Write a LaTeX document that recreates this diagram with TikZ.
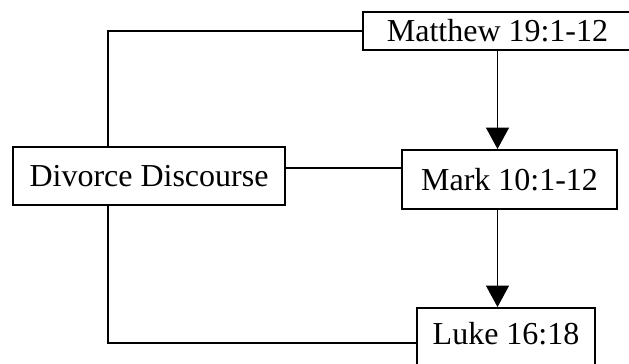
\documentclass[tikz,border=0pt]{standalone}
\usepackage{fontspec}
\setmainfont{Liberation Serif}
\usetikzlibrary{arrows.meta,calc}

\tikzset{
  passage/.style={draw, line width=1.6pt, inner sep=2pt, font=\fontsize{27.3}{32}\selectfont},
  link/.style={line width=1.6pt},
  flow/.style={line width=1.6pt, -{Triangle[width=0.68cm,length=0.64cm]}}
}

\begin{document}
\begin{tikzpicture}[x=0.03cm, y=-0.03cm]

  \clip (0,0) rectangle (629,363);

  % Passages
  \node[passage, minimum width=8.07cm, minimum height=1.14cm] (Matthew) at (497.5,31) {Matthew 19:1-12};
  \node[passage, minimum width=8.16cm, minimum height=1.74cm] (Divorce) at (149,176) {Divorce Discourse};
  \node[passage, minimum width=6.45cm, minimum height=1.77cm] (Mark) at (509.5,179.5) {Mark 10:1-12};
  \node[passage, minimum width=5.34cm, minimum height=1.77cm, text depth=0.25cm] (Luke) at (506,337.5) {Luke 16:18};

  % Links to the discourse
  \draw[link] (Matthew.west) -| ($(Divorce.north west)!0.35!(Divorce.north east)$);
  \coordinate (dm) at ([yshift=0.24cm]Divorce.east);
  \draw[link] (dm) -- (dm -| Mark.west);
  \draw[link] ($(Divorce.south west)!0.35!(Divorce.south east)$) |- ([yshift=-0.17cm]Luke.west);

  % Order of the gospels
  \draw[flow] (Matthew.south) -- (Matthew.south |- Mark.north);
  \draw[flow] (Mark.south -| Matthew.south) -- (Luke.north -| Matthew.south);

\end{tikzpicture}
\end{document}
